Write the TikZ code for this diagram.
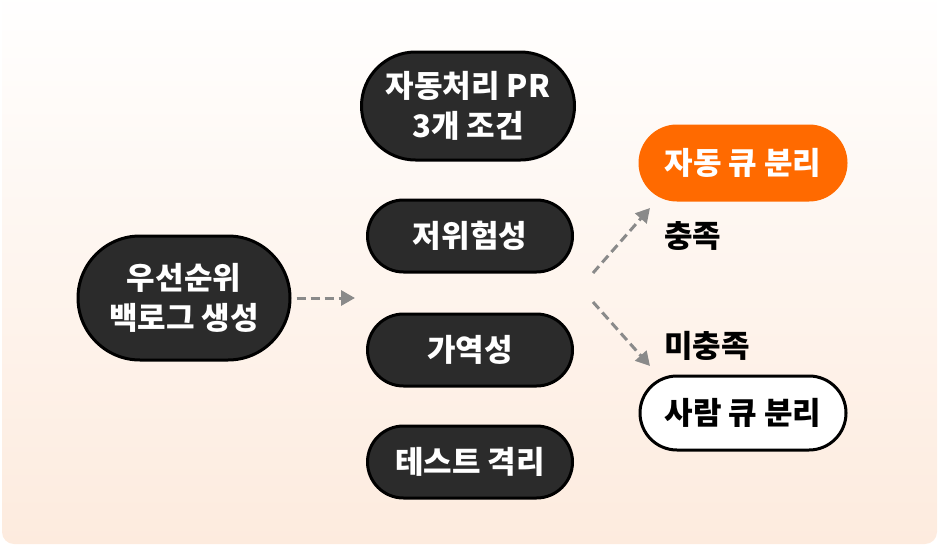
\documentclass[tikz,border=0pt]{standalone}
\usepackage{fontspec}
\setmainfont{Noto Sans CJK KR}
\usetikzlibrary{arrows.meta,positioning}
\definecolor{pillDark}{RGB}{43,43,43}
\definecolor{autoOrange}{RGB}{255,106,0}
\definecolor{flowGray}{RGB}{138,138,138}
\definecolor{bgPeach}{RGB}{253,235,222}

\tikzset{
  pill/.style={draw=black,line width=3pt,align=center,inner sep=0pt,
    font=\fontsize{31}{40}\selectfont\bfseries},
  darkpill/.style={pill,fill=pillDark,text=white},
  autopill/.style={pill,draw=autoOrange,fill=autoOrange,text=white},
  humanpill/.style={pill,fill=white,text=black},
  flowarrow/.style={draw=flowGray,line width=3pt,dash pattern=on 9pt off 5pt,
    -{Triangle[length=14pt,width=15pt,fill=flowGray]}},
  condlabel/.style={anchor=west,inner sep=0pt,font=\fontsize{31}{36}\selectfont\bfseries}
}

\begin{document}
\begin{tikzpicture}[x=1pt,y=-1pt]
  \useasboundingbox (0,0) rectangle (939,546);
  % backdrop
  \shade[top color=white,bottom color=bgPeach,rounded corners=12pt] (2,-12) rectangle (937,544);
  % backlog
  \node[darkpill,minimum width=212pt,minimum height=124pt,rounded corners=62pt] (backlog) at (184,298) {우선순위\\백로그 생성};
  % conditions
  \node[darkpill,minimum width=213pt,minimum height=108pt,rounded corners=54pt] (cond) at (468,106) {자동처리 PR\\3개 조건};
  \node[darkpill,minimum width=205pt,minimum height=72pt,rounded corners=36pt] (lowrisk) at (470,236) {저위험성};
  \node[darkpill,minimum width=205pt,minimum height=72pt,rounded corners=36pt] (revert) at (470,350) {가역성};
  \node[darkpill,minimum width=205pt,minimum height=72pt,rounded corners=36pt] (isolate) at (470,462) {테스트 격리};
  % outcomes
  \node[autopill,minimum width=206pt,minimum height=74pt,rounded corners=37pt] (autoq) at (743,163) {자동 큐 분리};
  \node[humanpill,minimum width=206pt,minimum height=74pt,rounded corners=37pt] (humanq) at (743,413) {사람 큐 분리};
  \node[condlabel] (met) at (664,236) {충족};
  \node[condlabel] (unmet) at (664,346) {미충족};
  % flow
  \coordinate (intoCond) at (355,298);
  \coordinate (fromCondA) at (593,273);
  \coordinate (fromCondB) at (593,302);
  \coordinate (toAuto) at (650,208);
  \coordinate (toHuman) at (650,366);
  \draw[flowarrow] (backlog.east) ++(5,0) -- (intoCond);
  \draw[flowarrow] (fromCondA) -- (toAuto);
  \draw[flowarrow] (fromCondB) -- (toHuman);
\end{tikzpicture}
\end{document}
